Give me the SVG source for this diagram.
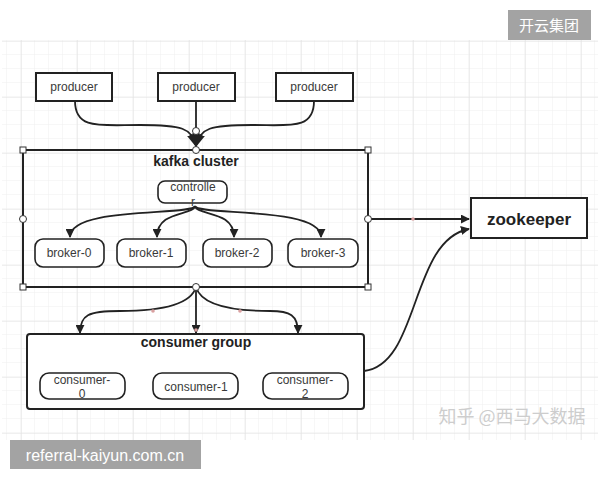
<svg xmlns="http://www.w3.org/2000/svg" width="600" height="480" viewBox="0 0 600 480">
<defs>
<pattern id="minor" x="7" y="41" width="14" height="14" patternUnits="userSpaceOnUse">
<path d="M14 0 V14 M0 14 H14" fill="none" stroke="#efefef" stroke-width="1"/>
</pattern>
<pattern id="major" x="21" y="41" width="56" height="56" patternUnits="userSpaceOnUse">
<path d="M0 0 V56 M0 0 H56" fill="none" stroke="#e2e2e2" stroke-width="1.2"/>
</pattern>
<marker id="arr" viewBox="0 0 10 10" refX="9" refY="5" markerWidth="9" markerHeight="9" markerUnits="userSpaceOnUse" orient="auto">
<path d="M0 0 L10 5 L0 10 Z" fill="#222"/>
</marker>
<marker id="arrBig" viewBox="0 0 10 10" refX="9" refY="5" markerWidth="13" markerHeight="13" markerUnits="userSpaceOnUse" orient="auto">
<path d="M0 0 L10 5 L0 10 Z" fill="#222"/>
</marker>
</defs>
<style>
.box{fill:#fff;stroke:#222;stroke-width:2}
.rbox{fill:#fff;stroke:#222;stroke-width:1.6}
.t{font-family:"Liberation Sans",Arial,sans-serif;fill:#3a3a3a;text-anchor:middle}
.s{font-size:12px}
.b{font-size:14px;font-weight:bold;fill:#222}
.edge{fill:none;stroke:#222;stroke-width:1.8}
.hc{fill:#fff;stroke:#333;stroke-width:1}
.dot{fill:#d9a0a0}
.wm{font-family:"Liberation Sans","Noto Sans CJK SC",sans-serif;fill:#fff;font-size:15px}
</style>
<rect width="600" height="480" fill="#fff"/>
<rect x="2" y="40" width="596" height="400" fill="url(#minor)"/>
<rect x="2" y="40" width="596" height="400" fill="url(#major)"/>

<g id="connectors">
<path class="edge" d="M75,101 C75,130 100,125 140,125 C182,125 192,128 196,146" marker-end="url(#arrBig)"/>
<path class="edge" d="M314,101 C314,130 290,125 252,125 C210,125 200,128 196,146" marker-end="url(#arrBig)"/>
<path class="edge" d="M196,101 L196,146" marker-end="url(#arrBig)"/>
<circle class="hc" cx="196" cy="131" r="3.5"/>

<path class="edge" d="M195,206 C193,216 70,206 70,237" marker-end="url(#arr)"/>
<path class="edge" d="M195,206 C193,216 157,210 157,237" marker-end="url(#arr)"/>
<path class="edge" d="M195,206 C197,216 234,210 234,237" marker-end="url(#arr)"/>
<path class="edge" d="M195,206 C197,216 321,206 321,237" marker-end="url(#arr)"/>

<path class="edge" d="M368,219 L469,219" marker-end="url(#arr)"/>
<circle class="dot" cx="413" cy="219" r="1.8"/>

<path class="edge" d="M196,287 C190,308 150,311 120,311 C88,311 80,315 80,333" marker-end="url(#arr)"/>
<path class="edge" d="M196,287 L196,333" marker-end="url(#arr)"/>
<path class="edge" d="M196,287 C202,308 240,311 270,311 C290,311 298,315 298,333" marker-end="url(#arr)"/>
<circle class="dot" cx="153" cy="311" r="1.8"/>
<circle class="dot" cx="240" cy="311" r="1.8"/>
<circle class="dot" cx="196" cy="330" r="1.8"/>

<path class="edge" d="M364,371 C420,365 410,240 469,229" marker-end="url(#arr)"/>
</g>

<g id="producer-0"><rect class="box" x="36" y="73" width="76" height="28"/><text class="t s" x="74" y="91">producer</text></g>
<g id="producer-1"><rect class="box" x="158" y="73" width="77" height="28"/><text class="t s" x="196" y="91">producer</text></g>
<g id="producer-2"><rect class="box" x="276" y="73" width="77" height="28"/><text class="t s" x="314" y="91">producer</text></g>

<g id="kafka-cluster">
<rect x="23" y="150" width="345" height="137" fill="none" stroke="#222" stroke-width="2"/>
<text class="t b" x="196" y="166">kafka cluster</text>
<rect x="20" y="147" width="6" height="6" class="hc"/>
<rect x="365" y="147" width="6" height="6" class="hc"/>
<rect x="20" y="284" width="6" height="6" class="hc"/>
<rect x="365" y="284" width="6" height="6" class="hc"/>
<circle class="hc" cx="196" cy="150" r="3.5"/>
<circle class="hc" cx="23" cy="219" r="3.5"/>
<circle class="hc" cx="368" cy="219" r="3.5"/>
<circle class="hc" cx="196" cy="287" r="3.5"/>
</g>

<g id="controller"><rect class="rbox" x="158" y="181" width="69" height="22" rx="7"/><text class="t s" x="193" y="191">controlle</text><text class="t s" x="193" y="206">r</text></g>

<g id="broker-0"><rect class="rbox" x="35" y="239" width="69" height="28" rx="8"/><text class="t s" x="69" y="257">broker-0</text></g>
<g id="broker-1"><rect class="rbox" x="117" y="239" width="69" height="28" rx="8"/><text class="t s" x="151" y="257">broker-1</text></g>
<g id="broker-2"><rect class="rbox" x="203" y="239" width="69" height="28" rx="8"/><text class="t s" x="237" y="257">broker-2</text></g>
<g id="broker-3"><rect class="rbox" x="288" y="239" width="70" height="28" rx="8"/><text class="t s" x="323" y="257">broker-3</text></g>

<g id="zookeeper"><rect class="box" x="471" y="198" width="116" height="40"/><text class="t" x="529" y="225" style="font-size:17px;font-weight:bold;fill:#222">zookeeper</text></g>

<g id="consumer-group">
<rect x="27" y="334" width="337" height="75" rx="3" fill="#fff" stroke="#222" stroke-width="2"/>
<text class="t b" x="196" y="347">consumer group</text>
</g>
<g id="consumer-0"><rect class="rbox" x="40" y="373" width="85" height="26" rx="9"/><text class="t s" x="82" y="384">consumer-</text><text class="t s" x="82" y="398">0</text></g>
<g id="consumer-1"><rect class="rbox" x="153" y="373" width="85" height="26" rx="9"/><text class="t s" x="196" y="391">consumer-1</text></g>
<g id="consumer-2"><rect class="rbox" x="263" y="373" width="85" height="26" rx="9"/><text class="t s" x="305" y="384">consumer-</text><text class="t s" x="305" y="398">2</text></g>

<text x="512" y="423" text-anchor="middle" font-family="'Noto Sans CJK SC',sans-serif" font-size="18" fill="#cdcdcd">知乎 @西马大数据</text>

<g id="wm-top"><rect x="508" y="10" width="83" height="30" fill="#a3a3a3"/><text class="wm" x="549" y="31" text-anchor="middle">开云集团</text></g>
<g id="wm-bottom"><rect x="10" y="440" width="191" height="29" fill="#a3a3a3"/><text class="wm" x="105" y="461" text-anchor="middle" style="font-size:16px">referral-kaiyun.com.cn</text></g>
</svg>
